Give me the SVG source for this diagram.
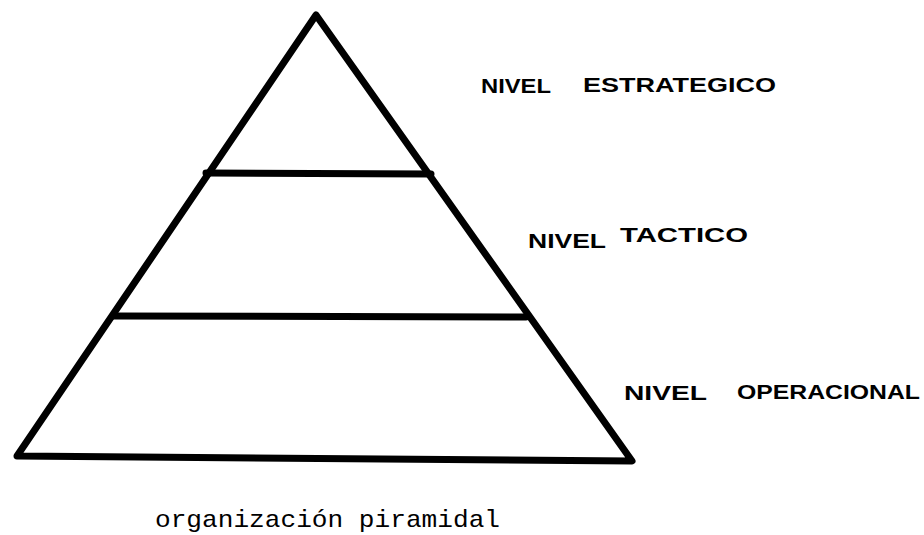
<svg xmlns="http://www.w3.org/2000/svg" width="924" height="535" viewBox="0 0 924 535">
<style>
.ln{stroke:#000;stroke-width:7;fill:none;stroke-linejoin:round;stroke-linecap:round}
.lbl{font-family:"Liberation Sans",Arial,sans-serif;font-size:20px;fill:#000;font-weight:bold}
.cap{font-family:"Liberation Mono","Courier New",monospace;font-size:24px;fill:#000}
</style>
<rect width="924" height="535" fill="#fff"/>
<g id="pyramid">
<path class="ln" d="M17,456 L316,15 L632,461 Z"/>
</g>
<g id="connectors">
<line class="ln" x1="206" y1="173" x2="431" y2="174"/>
<line class="ln" x1="114" y1="316" x2="526" y2="317"/>
</g>
<g id="label-estrategico">
<text class="lbl" x="481" y="93" textLength="70" lengthAdjust="spacingAndGlyphs">NIVEL</text>
<text class="lbl" x="583" y="92" textLength="193" lengthAdjust="spacingAndGlyphs">ESTRATEGICO</text>
</g>
<g id="label-tactico">
<text class="lbl" x="528" y="248" textLength="78" lengthAdjust="spacingAndGlyphs">NIVEL</text>
<text class="lbl" x="620" y="242" font-size="17" textLength="128" lengthAdjust="spacingAndGlyphs">TACTICO</text>
</g>
<g id="label-operacional">
<text class="lbl" x="624" y="400" textLength="83" lengthAdjust="spacingAndGlyphs">NIVEL</text>
<text class="lbl" x="737" y="399" textLength="183" lengthAdjust="spacingAndGlyphs">OPERACIONAL</text>
</g>
<g id="caption"><text class="cap" x="155" y="527" textLength="345" lengthAdjust="spacingAndGlyphs">organización piramidal</text></g>
</svg>
